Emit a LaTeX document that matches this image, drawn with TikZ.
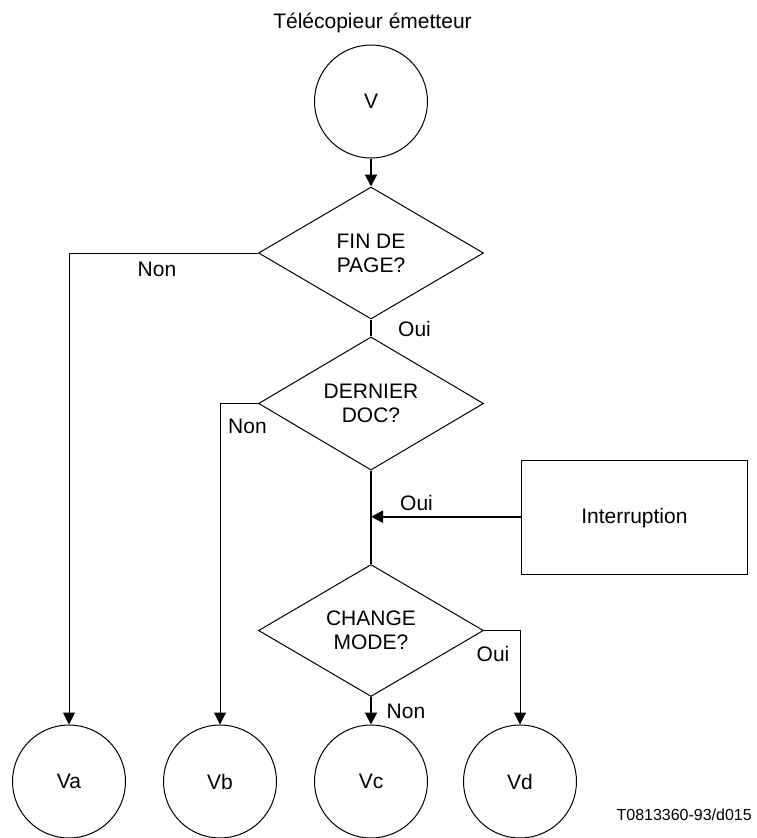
\documentclass[tikz,border=0pt]{standalone}
\usepackage{fontspec}
\setmainfont{Liberation Sans}
\usetikzlibrary{shapes.geometric,arrows.meta}
\begin{document}
\begin{tikzpicture}[x=1pt,y=-1pt,
  lbl/.style={font=\fontsize{21}{24}\selectfont, inner sep=0pt, anchor=base},
  conncircle/.style={circle, draw, line width=1pt, minimum size=113pt, inner sep=0pt, font=\fontsize{21}{24}\selectfont},
  decision/.style={diamond, draw, line width=1pt, minimum width=225pt, minimum height=132pt, inner sep=0pt, align=center, font=\fontsize{21}{24}\selectfont},
  procbox/.style={rectangle, draw, line width=1pt, minimum width=226.7pt, minimum height=113.3pt, inner sep=0pt, font=\fontsize{21}{24}\selectfont},
  thinline/.style={line width=1pt},
  thickline/.style={line width=2pt},
  arr/.style={-{Triangle[length=12pt,width=12pt]}}
]
\useasboundingbox (0,0) rectangle (756,838);

\node[lbl] (title) at (372.5,28) {Télécopieur émetteur};

\node[conncircle] (V) at (371,101.5) {V};
\node[decision] (d1) at (371,253) {FIN DE\\PAGE?};
\node[decision] (d2) at (371,403.5) {DERNIER\\DOC?};
\node[decision] (d3) at (371,630.5) {CHANGE\\MODE?};
\node[procbox] (intr) at (634.4,517.6) {Interruption};

\node[conncircle] (Va) at (69,781.5) {Va};
\node[conncircle] (Vb) at (220,781.5) {Vb};
\node[conncircle] (Vc) at (371,781.5) {Vc};
\node[conncircle] (Vd) at (520,781.5) {Vd};

\coordinate (join) at (371,516.7);

\draw[thickline,arr] (V.south) -- (d1.north);
\draw[thinline,arr] (d1.west) -| (Va.north);
\draw[thickline] (d1.south) -- (d2.north);
\draw[thinline,arr] (d2.west) -| (Vb.north);
\draw[thickline] (d2.south) -- (d3.north);
\draw[thickline,arr] (intr.west |- join) -- (join);
\draw[thinline,arr] (d3.east) -| (Vd.north);
\draw[thickline,arr] (d3.south) -- (Vc.north);

\node[lbl] (non1) at (157,276) {Non};
\node[lbl] (oui1) at (414.5,336) {Oui};
\node[lbl] (non2) at (247.5,433) {Non};
\node[lbl] (oui2) at (416.5,510) {Oui};
\node[lbl] (oui3) at (493,661) {Oui};
\node[lbl] (non3) at (406,718) {Non};

\node[font=\fontsize{16}{19}\selectfont, inner sep=0pt, anchor=base east] (ref) at (752,820) {T0813360-93/d015};
\end{tikzpicture}
\end{document}
